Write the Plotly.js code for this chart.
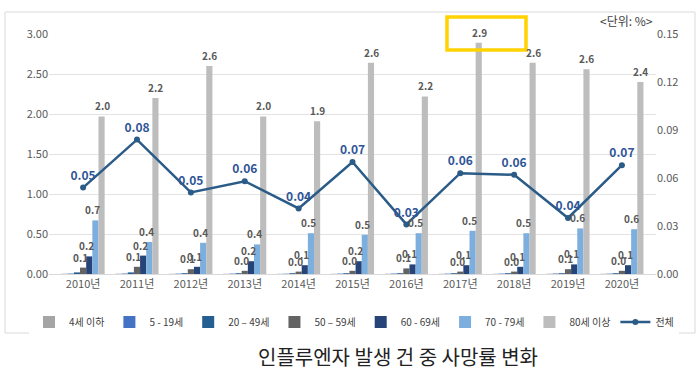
<!DOCTYPE html>
<html>
<head>
<meta charset="utf-8">
<script src="https://cdn.plot.ly/plotly-3.0.1.min.js"></script>
<style>html,body{margin:0;padding:0;background:#fff;}#chart{width:700px;height:373px;}</style>
</head>
<body>
<div id="chart"></div>
<script>
const years = ["2010년","2011년","2012년","2013년","2014년","2015년","2016년","2017년","2018년","2019년","2020년"];
const seriesNames = ["4세 이하","5 - 19세","20 – 49세","50 – 59세","60 - 69세","70 - 79세","80세 이상"];
const age0_4   = [0.004,0.004,0.003,0.003,0.003,0.003,0.004,0.003,0.003,0.004,0.003];
const age5_19  = [0.006,0.006,0.005,0.005,0.004,0.005,0.006,0.005,0.005,0.006,0.005];
const age20_49 = [0.02,0.02,0.01,0.01,0.01,0.01,0.01,0.01,0.01,0.01,0.01];
const age50_59 = [0.08,0.09,0.06,0.04,0.03,0.04,0.07,0.03,0.03,0.06,0.04];
const age60_69 = [0.22,0.23,0.09,0.16,0.11,0.16,0.12,0.11,0.09,0.12,0.11];
const age70_79 = [0.67,0.40,0.39,0.37,0.51,0.49,0.51,0.54,0.51,0.57,0.56];
const age80p   = [1.97,2.20,2.60,1.97,1.91,2.64,2.22,2.89,2.64,2.56,2.40];
const total    = [0.054,0.084,0.051,0.058,0.041,0.070,0.031,0.063,0.062,0.035,0.068];
const labeled  = [false,false,false,true,true,true,true];

const colors = ["#A5A5A5","#4472C4","#255E91","#636363","#264478","#7CAFDD","#BDBDBD"];
const allSeries = [age0_4,age5_19,age20_49,age50_59,age60_69,age70_79,age80p];
const FONT = "Noto Sans CJK KR, Noto Sans, sans-serif";

const L=49, R=656, T=34, B=274;
const W=R-L, H=B-T;
const px=(x)=>(x-L)/W, py=(y)=>(B-y)/H;
const BARGAP=0.2;
const barW = (W/years.length)*(1-BARGAP)/allSeries.length;

const traces = allSeries.map((vals,i)=>({
  type:'bar', name:seriesNames[i], x:years, y:vals,
  marker:{color:colors[i]}, hoverinfo:'skip'
}));
traces.push({
  type:'scatter', mode:'lines+markers+text', name:'전체', x:years, y:total, yaxis:'y2',
  line:{color:'#2B5B87', width:2.5}, marker:{color:'#2B5B87', size:6},
  text: total.map(v=>v.toFixed(2)), textposition:'top center',
  textfont:{family:FONT, size:12, color:'#2F5597', weight:'bold'},
  cliponaxis:false
});

const barLabels = [];
allSeries.forEach((vals,i)=>{
  if(!labeled[i]) return;
  vals.forEach((v,j)=>{
    barLabels.push({
      xref:'x', yref:'y', x:years[j], y:v, xshift:(i-3)*barW - (i<6?3:0), yshift:1,
      xanchor:'center', yanchor:'bottom', showarrow:false, text:v.toFixed(1),
      font:{family:FONT, size:10, color:'#595959', weight:'bold'}
    });
  });
});

const layout = {
  width:700, height:373,
  margin:{l:L, r:700-R, t:T, b:373-B},
  paper_bgcolor:'#fff', plot_bgcolor:'#fff',
  font:{family:FONT, color:'#595959', size:11},
  barmode:'group', bargap:BARGAP, bargroupgap:0,
  showlegend:true,
  legend:{orientation:'h', x:px(29), xanchor:'left', y:py(322), yanchor:'middle',
          font:{family:FONT, size:10, color:'#404040'}, itemwidth:30},
  xaxis:{type:'category', tickfont:{family:FONT, size:11, color:'#595959'},
         showline:true, linecolor:'#d9d9d9', ticks:'', fixedrange:true},
  yaxis:{range:[0,3], dtick:0.5, tickformat:'.2f', gridcolor:'#e3e3e3', zeroline:false,
         tickfont:{family:FONT, size:11, color:'#595959'}, ticks:'', fixedrange:true},
  yaxis2:{range:[0,0.15], dtick:0.03, tickformat:'.2f', overlaying:'y', side:'right',
          showgrid:false, zeroline:false, tickfont:{family:FONT, size:11, color:'#595959'},
          ticks:'', fixedrange:true},
  shapes:[
    {type:'rect', xref:'paper', yref:'paper', x0:px(5), x1:px(695), y0:py(333), y1:py(12),
     line:{color:'#d9d9d9', width:1}, fillcolor:'rgba(0,0,0,0)', layer:'below'},
    {type:'rect', xref:'paper', yref:'paper', x0:px(447), x1:px(526), y0:py(50), y1:py(17),
     line:{color:'#FFD200', width:3.5}, fillcolor:'rgba(0,0,0,0)'}
  ],
  annotations:[
    {text:'<단위: %>', xref:'paper', yref:'paper', x:px(655), y:py(21), xanchor:'right', yanchor:'middle',
     showarrow:false, font:{family:FONT, size:12, color:'#404040'}},
    {text:'인플루엔자 발생 건 중 사망률 변화', xref:'paper', yref:'paper', x:px(398), y:py(356),
     xanchor:'center', yanchor:'middle', showarrow:false,
     font:{family:FONT, size:20, color:'#222'}}
  ].concat(barLabels)
};
Plotly.newPlot('chart', traces, layout, {displayModeBar:false, staticPlot:true});
</script>
</body>
</html>
